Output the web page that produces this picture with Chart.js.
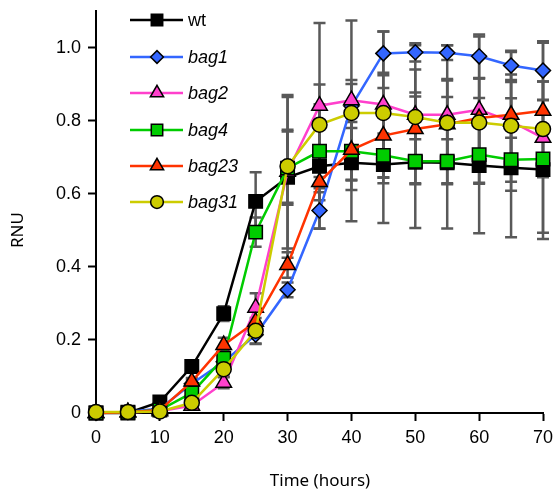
<!DOCTYPE html>
<html>
<head>
<meta charset="utf-8">
<script src="https://cdn.jsdelivr.net/npm/chart.js@4.4.1/dist/chart.umd.min.js"></script>
<style>
  html, body { margin: 0; padding: 0; background: #fff; }
  #wrap { width: 556px; height: 493px; }
</style>
</head>
<body>
<div id="wrap"><canvas id="rnuChart" width="556" height="493"></canvas></div>
<script>
// sampling times (hours)
var hours = [0, 5, 10, 15, 20, 25, 30, 35, 40, 45, 50, 55, 60, 65, 70];

// mean RNU per strain
var wt    = [0, 0, 0.03, 0.127, 0.272, 0.579, 0.645, 0.675, 0.685, 0.68, 0.686, 0.685, 0.677, 0.671, 0.666];
var bag1  = [0, 0.003, 0.012, 0.08, 0.14, 0.214, 0.337, 0.554, 0.84, 0.984, 0.987, 0.986, 0.976, 0.951, 0.937];
var bag2  = [0, 0.002, 0.005, 0.02, 0.083, 0.288, 0.66, 0.841, 0.856, 0.844, 0.816, 0.816, 0.83, 0.798, 0.753];
var bag4  = [0, 0.002, 0.008, 0.055, 0.15, 0.495, 0.67, 0.716, 0.716, 0.705, 0.689, 0.689, 0.707, 0.693, 0.695];
var bag23 = [0, 0.002, 0.008, 0.086, 0.186, 0.25, 0.405, 0.632, 0.72, 0.759, 0.777, 0.79, 0.807, 0.816, 0.827];
var bag31 = [0.003, 0.003, 0.004, 0.028, 0.12, 0.225, 0.675, 0.789, 0.821, 0.821, 0.81, 0.794, 0.795, 0.786, 0.777];

// error (+/-) per strain
var wtErr    = [0, 0, 0.005, 0.01, 0.02, 0.08, 0.22, 0.17, 0.16, 0.16, 0.18, 0.18, 0.185, 0.19, 0.19];
var bag1Err  = [0, 0, 0.005, 0.01, 0.02, 0.025, 0.02, 0.05, 0.06, 0.06, 0.025, 0.02, 0.06, 0.04, 0.08];
var bag2Err  = [0, 0, 0.003, 0.01, 0.015, 0.04, 0.21, 0.226, 0.218, 0.2, 0.19, 0.19, 0.2, 0.19, 0.26];
var bag4Err  = [0, 0, 0.004, 0.01, 0.02, 0.04, 0.1, 0.07, 0.08, 0.06, 0.06, 0.06, 0.08, 0.06, 0.05];
var bag23Err = [0, 0, 0.004, 0.01, 0.02, 0.03, 0.035, 0.05, 0.11, 0.13, 0.1, 0.12, 0.11, 0.11, 0.08];
var bag31Err = [0, 0, 0.003, 0.01, 0.02, 0.035, 0.1, 0.11, 0.09, 0.11, 0.13, 0.12, 0.12, 0.12, 0.13];

var yTicks = [0, 0.2, 0.4, 0.6, 0.8, 1.0];

function pts(vals) {
  return hours.map(function (h, i) { return { x: h, y: vals[i] }; });
}

function series(label, vals, errs, color, style, radius, order) {
  return {
    label: label,
    data: pts(vals),
    errors: errs,
    borderColor: color,
    backgroundColor: color,
    borderWidth: 2.5,
    pointStyle: style,
    pointRadius: radius,
    pointHoverRadius: radius,
    pointBorderColor: "#000",
    pointBackgroundColor: color,
    pointBorderWidth: 1.5,
    tension: 0,
    clip: false,
    order: order,
  };
}

var datasets = [
  series("wt", wt, wtErr, "#000000", "rect", 9.5, 6),
  series("bag1", bag1, bag1Err, "#3366FF", "rectRot", 7.5, 5),
  series("bag2", bag2, bag2Err, "#FF40CC", "triangle", 9, 4),
  series("bag4", bag4, bag4Err, "#00CC00", "rect", 9.5, 3),
  series("bag23", bag23, bag23Err, "#FF3300", "triangle", 9, 2),
  series("bag31", bag31, bag31Err, "#CCCC00", "circle", 7.5, 1),
];

var errorBars = {
  id: "errorBars",
  beforeDatasetsDraw: function (chart) {
    var ctx = chart.ctx, xs = chart.scales.x, ys = chart.scales.y;
    ctx.save();
    ctx.strokeStyle = "#595959";
    ctx.lineWidth = 2.5;
    chart.data.datasets.forEach(function (ds) {
      ds.data.forEach(function (p, i) {
        var e = ds.errors[i];
        if (!e) return;
        var px = xs.getPixelForValue(p.x);
        var top = ys.getPixelForValue(p.y + e);
        var bot = ys.getPixelForValue(p.y - e);
        ctx.beginPath();
        ctx.moveTo(px, top); ctx.lineTo(px, bot);
        ctx.moveTo(px - 6, top); ctx.lineTo(px + 6, top);
        ctx.moveTo(px - 6, bot); ctx.lineTo(px + 6, bot);
        ctx.stroke();
      });
    });
    ctx.restore();
  },
};

var legendBox = {
  id: "legendBox",
  afterDraw: function (chart) {
    var ctx = chart.ctx;
    var rows = [20, 57, 93, 130, 166, 202];
    ctx.save();
    chart.data.datasets.forEach(function (ds, i) {
      var y = rows[i];
      ctx.strokeStyle = ds.borderColor;
      ctx.lineWidth = 2.5;
      ctx.beginPath();
      ctx.moveTo(130, y); ctx.lineTo(183, y);
      ctx.stroke();
      ctx.fillStyle = ds.pointBackgroundColor;
      ctx.strokeStyle = "#000";
      ctx.lineWidth = 1.5;
      Chart.helpers.drawPoint(ctx, {
        pointStyle: ds.pointStyle,
        radius: ds.pointRadius * 0.85,
        rotation: 0,
        borderWidth: 1.5,
      }, 157, y);
      ctx.fillStyle = "#000";
      ctx.textBaseline = "middle";
      ctx.textAlign = "left";
      ctx.font = (i === 0 ? "" : "italic ") + "18px 'Liberation Sans'";
      ctx.fillText(ds.label, 188, y + 1);
    });
    // axis titles
    ctx.textAlign = "center";
    ctx.textBaseline = "middle";
    ctx.font = "17px 'Noto Sans'";
    ctx.fillText("Time (hours)", 320, 481);
    ctx.translate(18, 230);
    ctx.rotate(-Math.PI / 2);
    ctx.fillText("RNU", 0, 0);
    ctx.restore();
  },
};

new Chart(document.getElementById("rnuChart").getContext("2d"), {
  type: "line",
  data: { datasets: datasets },
  plugins: [errorBars, legendBox],
  options: {
    responsive: false,
    devicePixelRatio: 1,
    animation: false,
    layout: { padding: { top: 11, right: 13, left: 0, bottom: 0 } },
    plugins: { legend: { display: false }, tooltip: { enabled: false } },
    scales: {
      x: {
        type: "linear",
        min: 0,
        max: 70,
        ticks: { stepSize: 10, color: "#000", font: { family: "'Liberation Sans'", size: 18 }, padding: 6, maxRotation: 0 },
        grid: { display: true, drawOnChartArea: false, drawTicks: true, tickLength: 8, tickWidth: 2, color: "#000" },
        border: { color: "#000", width: 2 },
        afterFit: function (s) { s.height = 80; s.paddingLeft = 0; s.paddingRight = 0; },
      },
      y: {
        type: "linear",
        min: 0,
        max: 1.1,
        afterBuildTicks: function (s) {
          s.ticks = yTicks.map(function (v) { return { value: v }; });
        },
        ticks: {
          color: "#000",
          font: { family: "'Liberation Sans'", size: 18 },
          padding: 7,
          callback: function (v) { return v === 0 ? "0" : v.toFixed(1); },
        },
        grid: { display: true, drawOnChartArea: false, drawTicks: true, tickLength: 8, tickWidth: 2, color: "#000" },
        border: { color: "#000", width: 2 },
        afterFit: function (s) { s.width = 96; s.paddingTop = 0; s.paddingBottom = 0; },
      },
    },
  },
});
</script>
</body>
</html>
